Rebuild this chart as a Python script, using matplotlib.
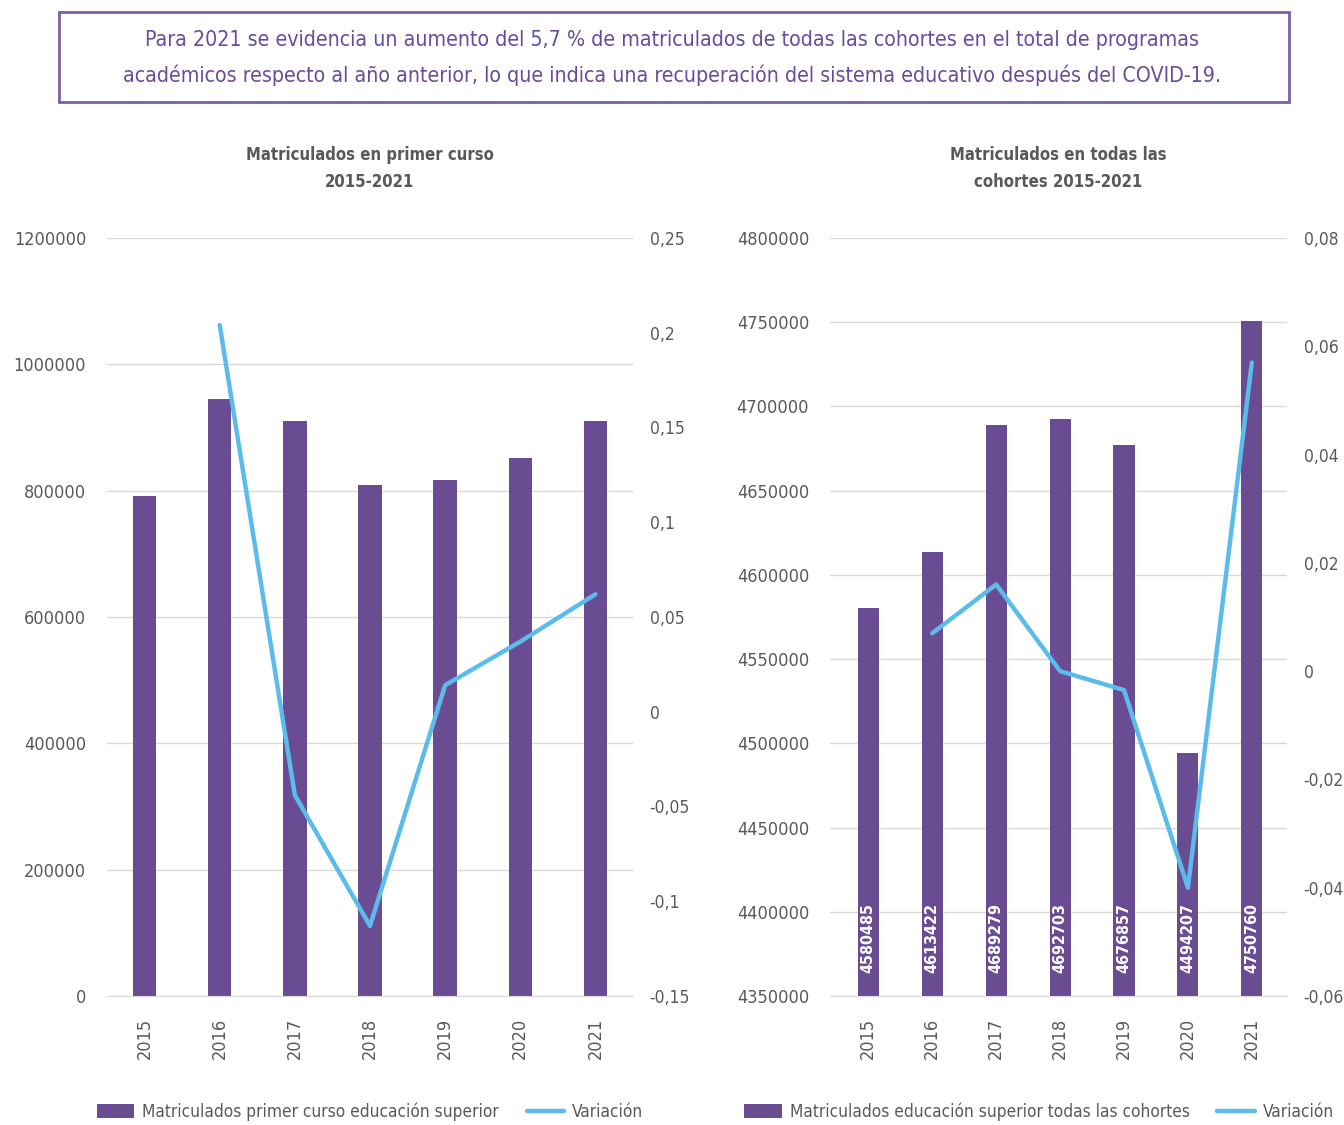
import numpy as np
import matplotlib
matplotlib.use("Agg")
import matplotlib.pyplot as plt
from matplotlib.patches import Rectangle
from matplotlib.ticker import FuncFormatter

plt.rcParams['font.family'] = ['DejaVu Sans']
plt.rcParams['font.stretch'] = 'condensed'

# ---- data ----
years = ["2015", "2016", "2017", "2018", "2019", "2020", "2021"]

primer_curso = [791500, 945000, 910000, 809000, 817000, 852000, 910000]
var_primer = [np.nan, 0.204, -0.044, -0.113, 0.014, 0.037, 0.062]

todas_cohortes = [4580485, 4613422, 4689279, 4692703, 4676857, 4494207, 4750760]
var_todas = [np.nan, 0.007, 0.016, 0.0, -0.0035, -0.040, 0.057]

titulo = ("Para 2021 se evidencia un aumento del 5,7 % de matriculados de todas las cohortes en el total de programas\n"
          "académicos respecto al año anterior, lo que indica una recuperación del sistema educativo después del COVID-19.")

# ---- style ----
bar_color = "#6a4c93"
line_color = "#5bbcec"
txt = "#595959"
grid = "#d9d9d9"

fig = plt.figure(figsize=(13.44, 11.25), dpi=100)

# header box
fig.patches.append(Rectangle((59 / 1344, 1 - 102 / 1125), 1230 / 1344, 90 / 1125,
                             transform=fig.transFigure, fill=False,
                             edgecolor="#7b5ea7", linewidth=2))
fig.text(0.5, 1 - 58 / 1125, titulo, ha="center", va="center", color="#6a4c9c",
         fontsize=15.3, linespacing=1.85)


def comma(v, p):
    v = round(v, 4)
    return f"{v:g}".replace(".", ",")


def make_chart(rect, xlim, vals, var, ylim, yticks, y2lim, y2ticks, title,
               bar_label, width, labels_inside):
    ax = fig.add_axes(rect)
    x = np.arange(len(years))
    ax.bar(x, vals, width=width, color=bar_color, zorder=2, label=bar_label)
    ax.set_xlim(*xlim)
    ax.set_ylim(*ylim)
    ax.set_yticks(yticks)
    ax.yaxis.set_major_formatter(FuncFormatter(lambda v, p: f"{int(round(v))}"))
    ax.set_xticks(x)
    ax.set_xticklabels(years, rotation=90)
    ax.grid(axis="y", color=grid, linewidth=1, zorder=0)
    for s in ["top", "right", "left"]:
        ax.spines[s].set_visible(False)
    ax.spines["bottom"].set_color(grid)
    ax.tick_params(axis="both", length=0, labelcolor=txt, labelsize=13)
    ax.tick_params(axis="y", pad=15)
    ax.tick_params(axis="x", pad=16)

    if labels_inside:
        for xi, v in zip(x, vals):
            ax.text(xi, 0.03, str(v), transform=ax.get_xaxis_transform(),
                    rotation=90, ha="center", va="bottom", color="white",
                    fontsize=11.5, fontweight="bold", zorder=4)

    ax2 = ax.twinx()
    ax2.plot(x, var, color=line_color, linewidth=3.2, zorder=3,
             solid_capstyle="round", label="Variación")
    ax2.set_ylim(*y2lim)
    ax2.set_yticks(y2ticks)
    ax2.yaxis.set_major_formatter(FuncFormatter(comma))
    for s in ["top", "right", "left", "bottom"]:
        ax2.spines[s].set_visible(False)
    ax2.tick_params(axis="y", length=0, labelcolor=txt, labelsize=12.5, pad=12)

    ax.set_title(title, fontsize=12, fontweight="bold", color=txt, pad=37,
                 linespacing=1.6)

    h1, l1 = ax.get_legend_handles_labels()
    h2, l2 = ax2.get_legend_handles_labels()
    return ax, ax2, h1 + h2, l1 + l2


axL, axL2, hL, lL = make_chart(
    [107 / 1344, 1 - 996 / 1125, 526 / 1344, 758 / 1125], (-0.5, 6.5),
    primer_curso, var_primer, (0, 1200000), np.arange(0, 1200001, 200000),
    (-0.15, 0.25), np.arange(-0.15, 0.2501, 0.05),
    "Matriculados en primer curso\n2015-2021",
    "Matriculados primer curso educación superior", 0.31, False)

axR, axR2, hR, lR = make_chart(
    [830 / 1344, 1 - 996 / 1125, 457 / 1344, 758 / 1125], (-0.6, 6.55),
    todas_cohortes, var_todas, (4350000, 4800000), np.arange(4350000, 4800001, 50000),
    (-0.06, 0.08), np.arange(-0.06, 0.0801, 0.02),
    "Matriculados en todas las\ncohortes 2015-2021",
    "Matriculados educación superior todas las cohortes", 0.33, True)

leg_kw = dict(loc="center", ncol=2, frameon=False, fontsize=12.4, labelcolor=txt,
              handlelength=2.2, handleheight=0.9, columnspacing=1.6,
              handletextpad=0.45)
fig.legend(hL, lL, bbox_to_anchor=(370 / 1344, 1 - 1112 / 1125), **leg_kw)
fig.legend(hR, lR, bbox_to_anchor=(1039 / 1344, 1 - 1112 / 1125), **leg_kw)

fig.savefig("out.png", dpi=100)
